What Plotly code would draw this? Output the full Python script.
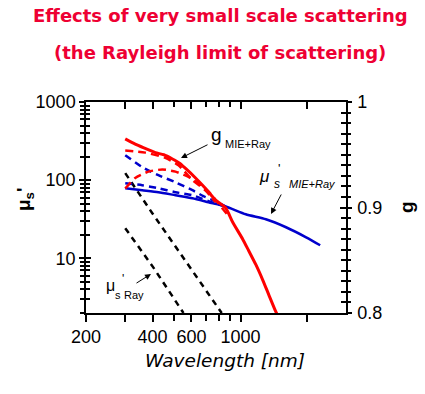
import plotly.graph_objects as go

# ---------------- data ----------------
# red curves: anisotropy g (right axis)
wl_g_mieray = [301, 334, 370, 412, 450, 492, 530, 564, 626, 695, 771, 857, 922, 1023, 1089, 1172, 1262, 1344, 1446, 1480]
g_mieray = [0.965, 0.960, 0.956, 0.952, 0.950, 0.946, 0.942, 0.937, 0.928, 0.918, 0.907, 0.8995, 0.886, 0.870, 0.859, 0.846, 0.831, 0.817, 0.801, 0.797]
wl_g_a = [301, 371, 457, 524, 606, 695, 771]
g_a = [0.954, 0.952, 0.947, 0.940, 0.926, 0.916, 0.905]
wl_g_b = [301, 334, 383, 443, 508, 582, 646, 717, 780, 866]
g_b = [0.918, 0.928, 0.934, 0.936, 0.934, 0.929, 0.923, 0.915, 0.906, 0.894]

# blue curves: reduced scattering mu_s' (left axis)
wl_mu_mieray = [301, 359, 425, 508, 606, 717, 857, 1056, 1302, 1606, 1980, 2292]
mu_mieray = [79, 74.4, 70.2, 64.2, 58.8, 52.2, 46.0, 36.6, 31.6, 25.0, 18.6, 14.7]
wl_mu_a = [301, 359, 425, 508, 606, 695, 771, 857]
mu_a = [209, 147, 116, 94, 74.4, 60.5, 53.8, 46.0]
wl_mu_b = [301, 359, 425, 508, 606, 717, 857]
mu_b = [91.6, 86.3, 78.8, 70.2, 64.2, 53.8, 46.0]

# black dashed: Rayleigh mu_s'
wl_ray_a = [301, 399, 822]
mu_ray_a = [123, 37.8, 2.0]
wl_ray_b = [301, 403, 552]
mu_ray_b = [24.3, 7.67, 2.0]

x_tickvals = [200, 300, 400, 600, 1000, 2000]
x_ticktext = ["200", "", "400", "600", "1000", ""]
x_minor = [500, 700, 800, 900]
y_tickvals = [10, 100, 1000]
y_ticktext = ["10", "100", "1000"]
y_minor = [2, 3, 4, 5, 6, 7, 8, 9, 20, 30, 40, 50, 60, 70, 80, 90, 200, 300, 400, 500, 600, 700, 800, 900]
g_tickvals = [0.8, 0.9, 1.0]
g_ticktext = ["0.8", "0.9", "1"]

RED = "#ff0000"
BLUE = "#0000cc"
BLACK = "#000000"
TITLE_RED = "#ee0033"
FONT = "Liberation Sans"
WFONT = "DejaVu Sans"

X_RANGE = [2.30103, 3.4771]
Y_RANGE = [0.30103, 3]
G_RANGE = [0.8, 1.0]

# ---------------- figure ----------------
fig = go.Figure()
fig.add_trace(go.Scatter(x=wl_ray_a, y=mu_ray_a, mode="lines", line=dict(color=BLACK, width=2.5, dash="6px,5px"), yaxis="y"))
fig.add_trace(go.Scatter(x=wl_ray_b, y=mu_ray_b, mode="lines", line=dict(color=BLACK, width=2.5, dash="6px,5px"), yaxis="y"))
fig.add_trace(go.Scatter(x=wl_mu_a, y=mu_a, mode="lines", line=dict(color=BLUE, width=2.5, dash="7px,5px", shape="spline", smoothing=0.6), yaxis="y"))
fig.add_trace(go.Scatter(x=wl_mu_b, y=mu_b, mode="lines", line=dict(color=BLUE, width=2.5, dash="7px,5px", shape="spline", smoothing=0.6), yaxis="y"))
fig.add_trace(go.Scatter(x=wl_mu_mieray, y=mu_mieray, mode="lines", line=dict(color=BLUE, width=2.5, shape="spline", smoothing=0.6), yaxis="y"))
fig.add_trace(go.Scatter(x=wl_g_a, y=g_a, mode="lines", line=dict(color=RED, width=2.5, dash="8px,5px", shape="spline", smoothing=0.6), yaxis="y2"))
fig.add_trace(go.Scatter(x=wl_g_b, y=g_b, mode="lines", line=dict(color=RED, width=2.5, dash="8px,5px", shape="spline", smoothing=0.6), yaxis="y2"))
fig.add_trace(go.Scatter(x=wl_g_mieray, y=g_mieray, mode="lines", line=dict(color=RED, width=3, shape="spline", smoothing=0.6), yaxis="y2"))
# empty traces so the tick-only overlay axes are drawn
fig.add_trace(go.Scatter(x=[], y=[], xaxis="x2", yaxis="y3", hoverinfo="skip"))
fig.add_trace(go.Scatter(x=[], y=[], xaxis="x", yaxis="y4", hoverinfo="skip"))

PL, PR, PT, PB = 86, 346, 102, 313
W, H = 425, 394


def px(x):
    return (x - PL) / (PR - PL)


def py(y):
    return (PB - y) / (PB - PT)


def txt(x, y, text, size=18, angle=0, color=BLACK, xanchor="center", family=FONT):
    return dict(x=px(x), y=py(y), xref="paper", yref="paper", text=text, showarrow=False,
                font=dict(family=family, size=size, color=color), textangle=angle,
                xanchor=xanchor, yanchor="middle")


def arrow(x0, y0, x1, y1):
    # tail (x0,y0) -> head (x1,y1) in pixel coordinates
    return dict(x=px(x1), y=py(y1), xref="paper", yref="paper", text="", showarrow=True,
                ax=x0 - x1, ay=y0 - y1, arrowhead=2, arrowsize=1.2, arrowwidth=1,
                arrowcolor=BLACK)


annotations = [
    txt(220, 15, "<b>Effects of very small scale scattering</b>", size=18, color=TITLE_RED, family=WFONT),
    txt(220, 52, "<b>(the Rayleigh limit of scattering)</b>", size=18, color=TITLE_RED, family=WFONT),
    txt(225, 360, "<i>Wavelength [nm]</i>", size=18.5, family=WFONT),
    txt(25, 199, "<b>μ<sub>s</sub>'</b>", size=19, angle=-90),
    txt(406, 207, "<b>g</b>", size=19, angle=-90),
    # g MIE+Ray label
    txt(216, 134, "g", size=19),
    txt(223, 144, "MIE+Ray", size=11, xanchor="left"),
    arrow(209, 144, 181, 158),
    # mu_s' MIE+Ray label
    txt(264, 176, "<i>μ</i>", size=17),
    txt(279, 168, "'", size=13),
    txt(277, 184, "<i>s</i>", size=12),
    txt(287, 184, "<i>MIE+Ray</i>", size=11, xanchor="left"),
    arrow(282, 193, 271, 214),
    # mu_s' Ray label
    txt(110, 285, "μ", size=16),
    txt(123, 279, "'", size=12),
    txt(113, 295, "s", size=11, xanchor="left"),
    txt(122, 295, "Ray", size=11, xanchor="left"),
    arrow(135, 284, 151, 274),
]

tick_common = dict(showgrid=False, zeroline=False, automargin=False, tickwidth=1.5, tickcolor=BLACK)

fig.update_layout(
    width=W, height=H,
    margin=dict(l=PL, r=W - PR, t=PT, b=H - PB),
    paper_bgcolor="white", plot_bgcolor="white",
    showlegend=False,
    font=dict(family=FONT, size=18, color=BLACK),
    xaxis=dict(type="log", range=X_RANGE, **tick_common,
               showline=True, linecolor=BLACK, linewidth=1.5, mirror=True,
               ticks="outside", ticklen=7,
               tickvals=x_tickvals, ticktext=x_ticktext,
               minor=dict(tickvals=x_minor, ticks="outside", ticklen=6, tickwidth=1.5, tickcolor=BLACK),
               tickfont=dict(family=FONT, size=18), ticklabelstandoff=0),
    # top axis: ticks pointing into the plot
    xaxis2=dict(type="log", range=X_RANGE, overlaying="x", side="top", anchor="y", **tick_common,
                showline=False, showticklabels=False, ticks="inside", ticklen=7,
                tickvals=x_tickvals,
                minor=dict(tickvals=x_minor, ticks="inside", ticklen=5, tickwidth=1.5, tickcolor=BLACK)),
    yaxis=dict(type="log", range=Y_RANGE, **tick_common,
               showline=True, linecolor=BLACK, linewidth=1.5,
               ticks="outside", ticklen=5,
               tickvals=y_tickvals, ticktext=y_ticktext,
               minor=dict(tickvals=y_minor, ticks="outside", ticklen=4, tickwidth=1.5, tickcolor=BLACK),
               tickfont=dict(family=FONT, size=18)),
    # inner half of the crossing ticks on the left axis
    yaxis3=dict(type="log", range=Y_RANGE, overlaying="y", side="left", anchor="x2", **tick_common,
                showline=False, showticklabels=False, ticks="inside", ticklen=5,
                tickvals=y_tickvals,
                minor=dict(tickvals=y_minor, ticks="inside", ticklen=4, tickwidth=1.5, tickcolor=BLACK)),
    yaxis2=dict(overlaying="y", side="right", range=G_RANGE, **tick_common,
                showline=True, linecolor=BLACK, linewidth=1.5,
                ticks="outside", ticklen=4,
                tickvals=g_tickvals, ticktext=g_ticktext,
                minor=dict(dtick=0.01, ticks="outside", ticklen=3, tickwidth=1.5, tickcolor=BLACK),
                tickfont=dict(family=FONT, size=18), ticklabelstandoff=2),
    # inner half of the crossing ticks on the right axis
    yaxis4=dict(overlaying="y", side="right", range=G_RANGE, anchor="x", **tick_common,
                showline=False, showticklabels=False, ticks="inside", ticklen=6,
                tickvals=g_tickvals,
                minor=dict(dtick=0.01, ticks="inside", ticklen=5, tickwidth=1.5, tickcolor=BLACK)),
    annotations=annotations,
)

fig.write_html("out.html", config={"displayModeBar": False},
               post_script="document.body.style.margin='0';document.body.style.padding='0';")
